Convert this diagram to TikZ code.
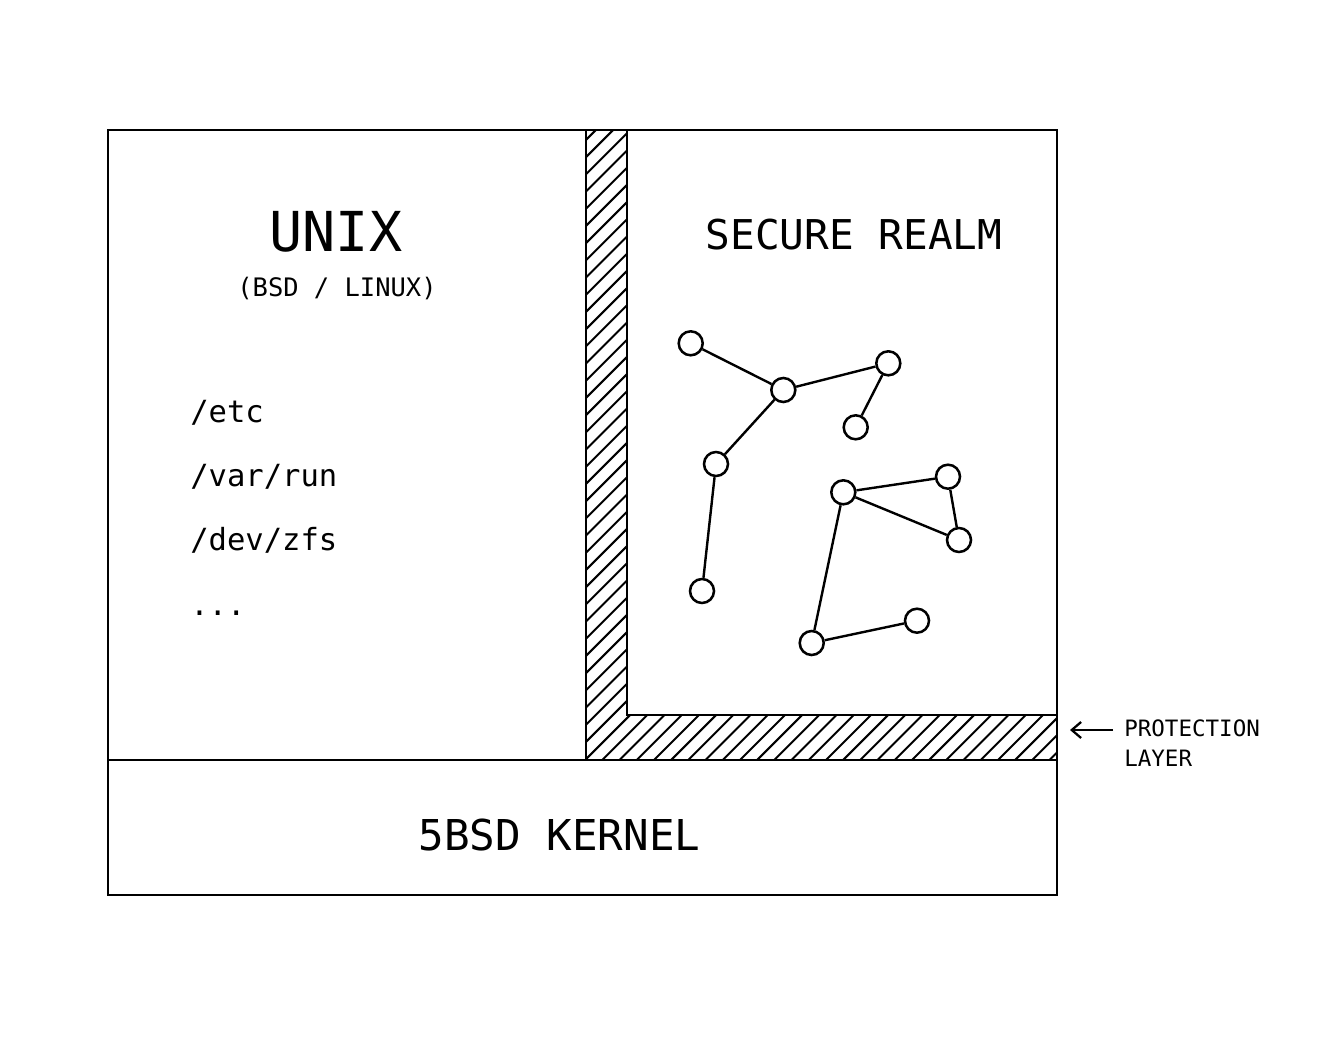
\documentclass[tikz,border=0pt]{standalone}
\usepackage{fontspec}
\newfontfamily\mono{DejaVu Sans Mono}
\usetikzlibrary{arrows.meta}
\begin{document}
\begin{tikzpicture}[x=0.75pt,y=-0.75pt,
  frame/.style={line width=2.2pt},
  hatchline/.style={line width=1.5pt},
  gnode/.style={circle,draw,line width=1.9pt,fill=white,minimum size=18pt,inner sep=0pt},
  gedge/.style={line width=1.8pt},
  lbl/.style={inner sep=0pt,font=\mono}]
\useasboundingbox[fill=white] (0,0) rectangle (1320,1048);
% hatching of the protection layer (L shape)
\begin{scope}
  \clip (586,130) -- (627,130) -- (627,715) -- (1057,715) -- (1057,760) -- (586,760) -- cycle;
  \foreach \k in {-41,...,26}{
    \pgfmathsetmacro{\c}{1396.7+17.2*\k}
    \draw[hatchline] (586,{\c-586}) -- (1057,{\c-1057});
  }
\end{scope}
% outlines
\draw[frame] (108,130) rectangle (1057,895);
\draw[frame] (108,760) -- (1057,760);
\draw[frame] (586,130) -- (586,760);
\draw[frame] (627,130) -- (627,715) -- (1057,715);
% texts
\node[lbl,anchor=base,font=\mono\fontsize{41.3pt}{45pt}\selectfont] (unix) at (336,252) {UNIX};
\node[lbl,anchor=base,font=\mono\fontsize{19.1pt}{22pt}\selectfont] (bsd) at (337,297) {(BSD / LINUX)};
\node[lbl,anchor=base,font=\mono\fontsize{30.8pt}{34pt}\selectfont] (secure) at (854,250) {SECURE REALM};
\node[lbl,anchor=base west,font=\mono\fontsize{22.9pt}{26pt}\selectfont] (etc) at (190,422) {/etc};
\node[lbl,anchor=base west,font=\mono\fontsize{22.9pt}{26pt}\selectfont] (var) at (190,486.5) {/var/run};
\node[lbl,anchor=base west,font=\mono\fontsize{22.9pt}{26pt}\selectfont] (dev) at (190,550.5) {/dev/zfs};
\node[lbl,anchor=base west,font=\mono\fontsize{22.9pt}{26pt}\selectfont] (dots) at (190,615) {...};
\node[lbl,anchor=base,font=\mono\fontsize{31.9pt}{35pt}\selectfont] (kernel) at (559.5,850.5) {5BSD KERNEL};
\node[lbl,anchor=base west,font=\mono\fontsize{16.9pt}{20pt}\selectfont] (prot) at (1124,736.5) {PROTECTION};
\node[lbl,anchor=base west,font=\mono\fontsize{16.9pt}{20pt}\selectfont] (layer) at (1124,766) {LAYER};
% arrow
\coordinate (arrS) at (1113,730);
\coordinate (arrE) at (1070,730);
\draw[line width=1.7pt,-{Straight Barb[length=7pt,width=12pt]}] (arrS) -- (arrE);
% graph
\node[gnode] (a) at (690.7,343.3) {};
\node[gnode] (b) at (783.3,390) {};
\node[gnode] (c) at (888.3,363.3) {};
\node[gnode] (d) at (855.7,427.3) {};
\node[gnode] (e) at (716,464) {};
\node[gnode] (f) at (702,591) {};
\node[gnode] (g) at (843.3,492.3) {};
\node[gnode] (h) at (948,476.7) {};
\node[gnode] (i) at (959,540) {};
\node[gnode] (j) at (811.7,643) {};
\node[gnode] (k) at (917,620.7) {};
\draw[gedge] (a) -- (b);
\draw[gedge] (b) -- (c);
\draw[gedge] (c) -- (d);
\draw[gedge] (b) -- (e);
\draw[gedge] (e) -- (f);
\draw[gedge] (g) -- (h);
\draw[gedge] (h) -- (i);
\draw[gedge] (g) -- (i);
\draw[gedge] (g) -- (j);
\draw[gedge] (j) -- (k);
\end{tikzpicture}
\end{document}
